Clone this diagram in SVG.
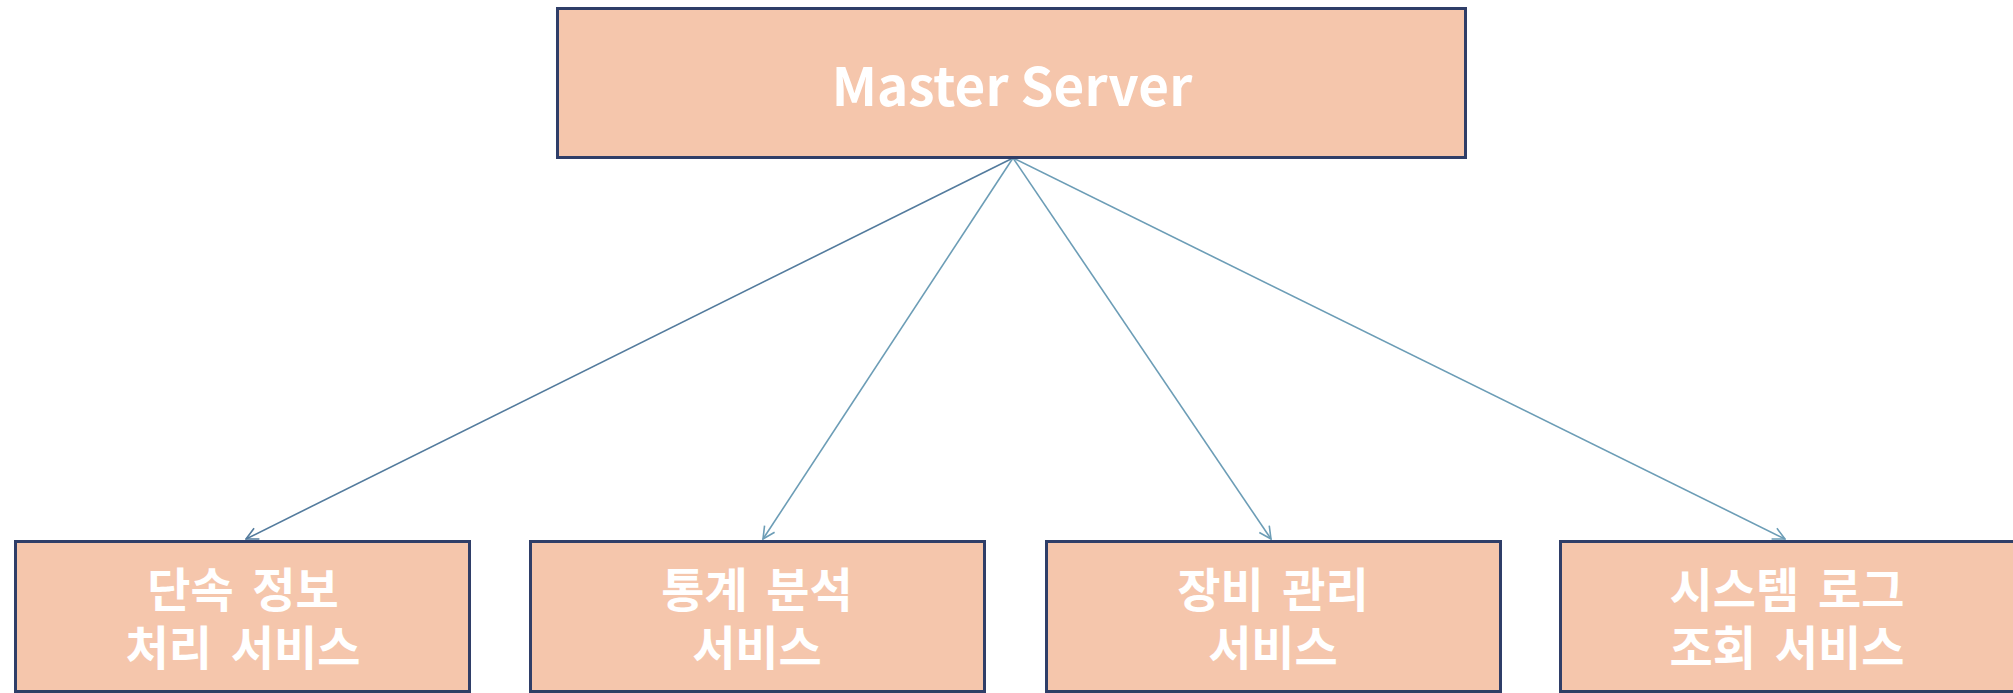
<svg xmlns="http://www.w3.org/2000/svg" width="2013" height="693" viewBox="0 0 2013 693">
  <style>
    .box { fill: #F5C6AC; stroke: #2F3E68; stroke-width: 3; }
    .label { fill: #FFFFFF; font-family: "Noto Sans CJK KR", "Noto Sans", sans-serif; font-weight: bold; text-anchor: middle; }
    .title { font-size: 53px; }
    .svc { font-size: 47px; word-spacing: 8px; }
    .link { fill: none; stroke: #6C9DB6; stroke-width: 1.6; }
    .link.dark { stroke: #537B9D; }
  </style>
  <defs>
    <marker id="vee" viewBox="0 0 14 14" refX="13" refY="7" markerWidth="14" markerHeight="14" markerUnits="userSpaceOnUse" orient="auto">
      <path d="M1,1 L13,7 L1,13" fill="none" stroke="context-stroke" stroke-width="1.6"/>
    </marker>
  </defs>

  <g id="connectors">
    <line class="link dark" x1="1013" y1="158" x2="246" y2="539" marker-end="url(#vee)"/>
    <line class="link" x1="1013" y1="158" x2="763" y2="539" marker-end="url(#vee)"/>
    <line class="link" x1="1013" y1="158" x2="1271" y2="539" marker-end="url(#vee)"/>
    <line class="link" x1="1013" y1="158" x2="1785" y2="539" marker-end="url(#vee)"/>
  </g>

  <g id="master-server">
    <rect class="box" x="557.5" y="8.5" width="908" height="149"/>
    <text class="label title" x="1012" y="106">Master Server</text>
  </g>

  <g id="enforcement-service">
    <rect class="box" x="15.5" y="541.5" width="454" height="150"/>
    <text class="label svc" x="243" y="607">단속 정보</text>
    <text class="label svc" x="243" y="665">처리 서비스</text>
  </g>

  <g id="statistics-service">
    <rect class="box" x="530.5" y="541.5" width="454" height="150"/>
    <text class="label svc" x="757" y="607">통계 분석</text>
    <text class="label svc" x="757" y="665">서비스</text>
  </g>

  <g id="device-service">
    <rect class="box" x="1046.5" y="541.5" width="454" height="150"/>
    <text class="label svc" x="1273" y="607">장비 관리</text>
    <text class="label svc" x="1273" y="665">서비스</text>
  </g>

  <g id="syslog-service">
    <rect class="box" x="1560.5" y="541.5" width="454" height="150"/>
    <text class="label svc" x="1787" y="607">시스템 로그</text>
    <text class="label svc" x="1787" y="665">조회 서비스</text>
  </g>
</svg>
